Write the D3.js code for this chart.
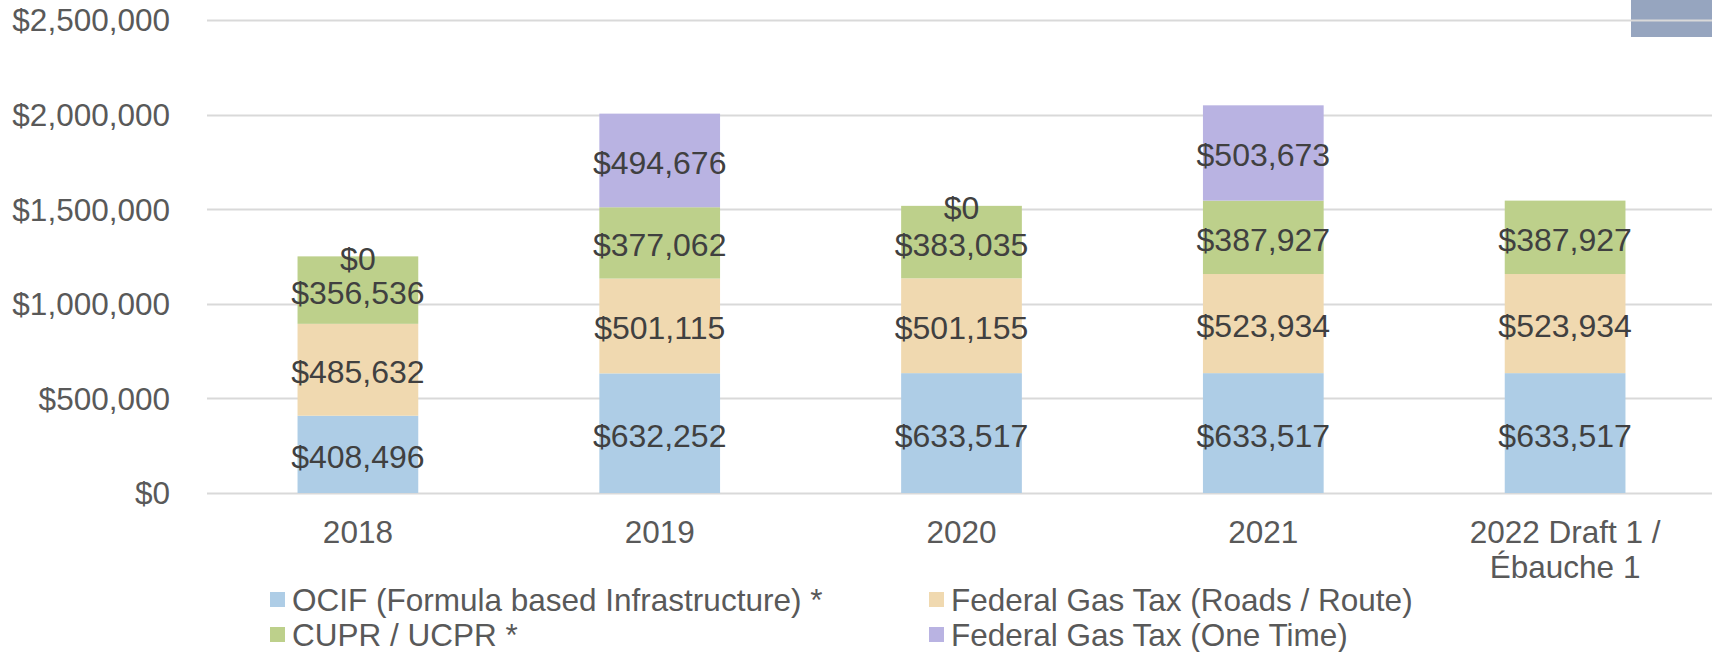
<!DOCTYPE html>
<html>
<head>
<meta charset="utf-8">
<script src="https://cdn.jsdelivr.net/npm/d3@7"></script>
<style>
  html, body { margin: 0; padding: 0; background: #fff; }
  svg { display: block; font-family: "Liberation Sans", Arial, sans-serif; }
</style>
</head>
<body>
<div id="chart"></div>
<script>
// chart data
const years = ['2018', '2019', '2020', '2021', '2022 Draft 1 /\nÉbauche 1'];
const ocif = [408496, 632252, 633517, 633517, 633517];
const gasTaxRoads = [485632, 501115, 501155, 523934, 523934];
const cupr = [356536, 377062, 383035, 387927, 387927];
const gasTaxOneTime = [0, 494676, 0, 503673, null];
const seriesNames = ['OCIF (Formula based Infrastructure) *', 'Federal Gas Tax (Roads / Route)', 'CUPR / UCPR *', 'Federal Gas Tax (One Time)'];
const yTicks = [0, 500000, 1000000, 1500000, 2000000, 2500000];

const width = 1712;
const height = 652;
const COLORS = ['#aecde6', '#f0d9b0', '#bdd08b', '#b9b3e2'];
const AXIS_TEXT = '#595959';
const LABEL_TEXT = '#404040';
const GRID = '#d9d9d9';

const svg = d3.select('#chart').append('svg')
  .attr('width', width)
  .attr('height', height);

const x = d3.scaleBand()
  .domain(years)
  .range([207, 1716])
  .paddingInner(0.6)
  .paddingOuter(0.3);

const y = d3.scaleLinear()
  .domain([0, 2500000])
  .range([493, 20]);

const money = d3.format('$,');

// stray shape in the top right corner of the original
svg.append('rect')
  .attr('x', 1631).attr('y', 0)
  .attr('width', 81).attr('height', 37)
  .attr('fill', '#96a5bf');

// gridlines
svg.append('g')
  .selectAll('line')
  .data(yTicks)
  .join('line')
  .attr('x1', 207).attr('x2', width)
  .attr('y1', d => Math.round(y(d)) + 0.5)
  .attr('y2', d => Math.round(y(d)) + 0.5)
  .attr('stroke', GRID)
  .attr('stroke-width', 2);

// y axis labels
svg.append('g')
  .selectAll('text')
  .data(yTicks)
  .join('text')
  .attr('x', 170)
  .attr('y', d => y(d))
  .attr('dy', '0.36em')
  .attr('text-anchor', 'end')
  .attr('font-size', 31.5)
  .attr('fill', AXIS_TEXT)
  .text(d => money(d));

// build stack table from the arrays
const table = years.map((yr, i) => ({
  year: yr,
  s0: ocif[i], s1: gasTaxRoads[i], s2: cupr[i], s3: gasTaxOneTime[i]
}));
const keys = ['s0', 's1', 's2', 's3'];
const stacked = d3.stack().keys(keys).value((d, k) => d[k] || 0)(table);

const layers = svg.append('g')
  .selectAll('g')
  .data(stacked)
  .join('g')
  .attr('fill', (d, i) => COLORS[i]);

layers.selectAll('rect')
  .data(d => d)
  .join('rect')
  .attr('x', d => x(d.data.year))
  .attr('width', x.bandwidth())
  .attr('y', d => y(d[1]))
  .attr('height', d => y(d[0]) - y(d[1]));

// data labels
const labels = svg.append('g');
stacked.forEach(layer => {
  layer.forEach(d => {
    const v = d.data[layer.key];
    if (v === null || v === undefined) return;
    labels.append('text')
      .attr('x', x(d.data.year) + x.bandwidth() / 2)
      .attr('y', (y(d[0]) + y(d[1])) / 2)
      .attr('dy', '0.42em')
      .attr('text-anchor', 'middle')
      .attr('font-size', 32)
      .attr('fill', LABEL_TEXT)
      .text(money(v));
  });
});

// x axis labels
const xLabels = svg.append('g')
  .selectAll('text')
  .data(years)
  .join('text')
  .attr('x', d => x(d) + x.bandwidth() / 2)
  .attr('y', 543)
  .attr('text-anchor', 'middle')
  .attr('font-size', 31.5)
  .attr('fill', AXIS_TEXT);

xLabels.selectAll('tspan')
  .data(d => d.split('\n'))
  .join('tspan')
  .attr('x', function() { return d3.select(this.parentNode).attr('x'); })
  .attr('dy', (d, i) => i === 0 ? 0 : 35)
  .text(d => d);

// legend, two columns
const legendPos = [[270, 600], [929, 600], [270, 635], [929, 635]];
const legend = svg.append('g')
  .selectAll('g')
  .data(seriesNames)
  .join('g')
  .attr('transform', (d, i) => `translate(${legendPos[i][0]},${legendPos[i][1]})`);

legend.append('rect')
  .attr('x', 0).attr('y', -8)
  .attr('width', 15).attr('height', 15)
  .attr('fill', (d, i) => COLORS[i]);

legend.append('text')
  .attr('x', 22)
  .attr('y', 0)
  .attr('dy', '0.34em')
  .attr('font-size', 31.5)
  .attr('fill', AXIS_TEXT)
  .text(d => d);
</script>
</body>
</html>
